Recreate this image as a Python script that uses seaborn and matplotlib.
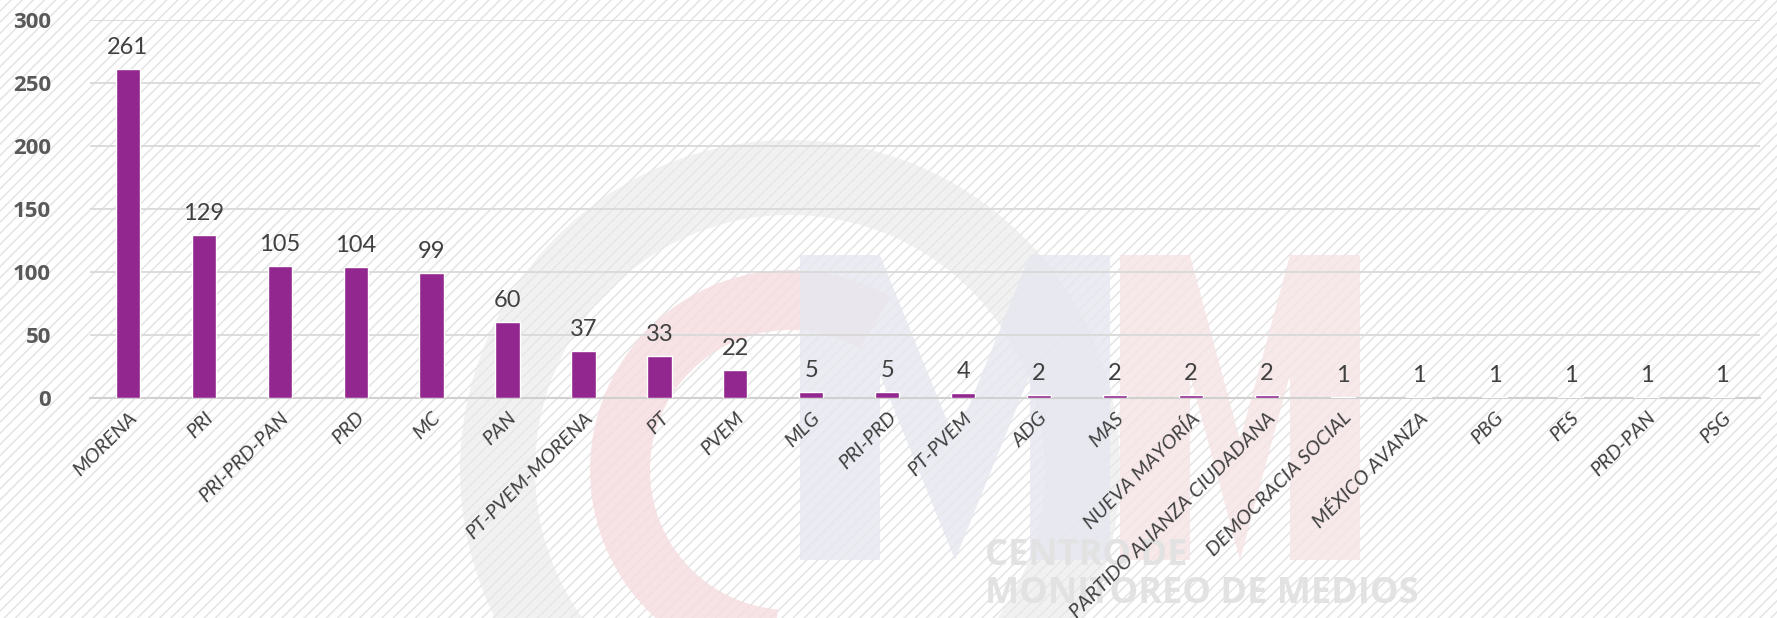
import matplotlib
matplotlib.use("Agg")
import matplotlib.pyplot as plt
from matplotlib.patches import Rectangle, Wedge, Polygon
import seaborn as sns
import pandas as pd

partidos = ["MORENA", "PRI", "PRI-PRD-PAN", "PRD", "MC", "PAN", "PT-PVEM-MORENA", "PT",
            "PVEM", "MLG", "PRI-PRD", "PT-PVEM", "ADG", "MAS", "NUEVA MAYORÍA",
            "PARTIDO ALIANZA CIUDADANA", "DEMOCRACIA SOCIAL", "MÉXICO AVANZA", "PBG",
            "PES", "PRD-PAN", "PSG"]
menciones = [261, 129, 105, 104, 99, 60, 37, 33, 22, 5, 5, 4, 2, 2, 2, 2, 1, 1, 1, 1, 1, 1]
y_ticks = [0, 50, 100, 150, 200, 250, 300]

df = pd.DataFrame({"partido": partidos, "menciones": menciones})

sns.set_style("white")
plt.rcParams['font.family'] = ['Lato', 'DejaVu Sans']
plt.rcParams['hatch.color'] = '#e4e4e4'
plt.rcParams['hatch.linewidth'] = 1.1

fig = plt.figure(figsize=(17.77, 6.18), dpi=100)

# hatched background
bg = Rectangle((0, 0), 1, 1, transform=fig.transFigure, facecolor='white',
               edgecolor='#e4e4e4', hatch='///', linewidth=0, zorder=-10)
fig.patches.append(bg)


def m_shape(x0, x1, ytop, ybot, stem):
    xm = (x0 + x1) / 2
    return [(x0, ybot), (x0, ytop), (x0 + stem, ytop), (xm, ybot - 120),
            (x1 - stem, ytop), (x1, ytop), (x1, ybot), (x1 - stem, ybot),
            (x1 - stem, ytop + 120), (xm, ybot), (x0 + stem, ytop + 120), (x0 + stem, ybot)]


# faint watermark (logo)
ax_w = fig.add_axes([0, 0, 1, 1], zorder=-5)
ax_w.set_xlim(0, 1777)
ax_w.set_ylim(618, 0)
ax_w.axis('off')
ax_w.patch.set_alpha(0)
ax_w.add_patch(Wedge((790, 470), 330, 0, 360, width=75, facecolor='#e9e9e9', alpha=0.6, lw=0))
ax_w.add_patch(Wedge((790, 470), 200, 95, 300, width=60, facecolor='#f6dde0', alpha=0.8, lw=0))
ax_w.add_patch(Polygon(m_shape(800, 1110, 255, 560, 80), closed=True,
                       facecolor='#e6e8f0', alpha=0.8, lw=0))
ax_w.add_patch(Polygon(m_shape(1120, 1360, 255, 560, 70), closed=True,
                       facecolor='#f6e3e5', alpha=0.8, lw=0))
ax_w.text(985, 575, "CENTRO DE\nMONITOREO DE MEDIOS", fontsize=26, fontweight='bold',
          color='#e2e2e2', ha='left', va='center', linespacing=1.05, family='Open Sans')

ax = fig.add_axes([0.0506, 0.356, 0.940, 0.612])
ax.patch.set_alpha(0)
sns.barplot(data=df, x="partido", y="menciones", color="#92278F", saturation=1,
            width=0.32, ax=ax, zorder=3)

ax.set_ylim(0, 300)
ax.set_yticks(y_ticks)
ax.set_yticklabels([str(t) for t in y_ticks], fontsize=16, fontweight='bold',
                   color='#595959', family='Open Sans')
ax.grid(axis='y', color='#d9d9d9', linewidth=1.3, zorder=0)
ax.set_axisbelow(True)
ax.set_xlim(-0.5, len(partidos) - 0.5)

for i, v in enumerate(menciones):
    ax.annotate(str(v), (i, v), xytext=(0, 8), textcoords='offset points',
                ha='center', va='bottom', fontsize=17, color='#404040')

ax.set_xticks(range(len(partidos)))
ax.set_xticklabels(partidos, rotation=45, ha='right', rotation_mode='anchor',
                   fontsize=14.5, fontstyle='italic', color='#404040')
ax.tick_params(axis='x', length=0, pad=8)
ax.tick_params(axis='y', length=0, pad=28)
ax.set_xlabel("")
ax.set_ylabel("")
sns.despine(ax=ax, left=True, top=True, right=True)
ax.spines['bottom'].set_color('#d0d0d0')
ax.spines['bottom'].set_linewidth(1.5)

fig.savefig("out.png", dpi=100)
plt.close(fig)
